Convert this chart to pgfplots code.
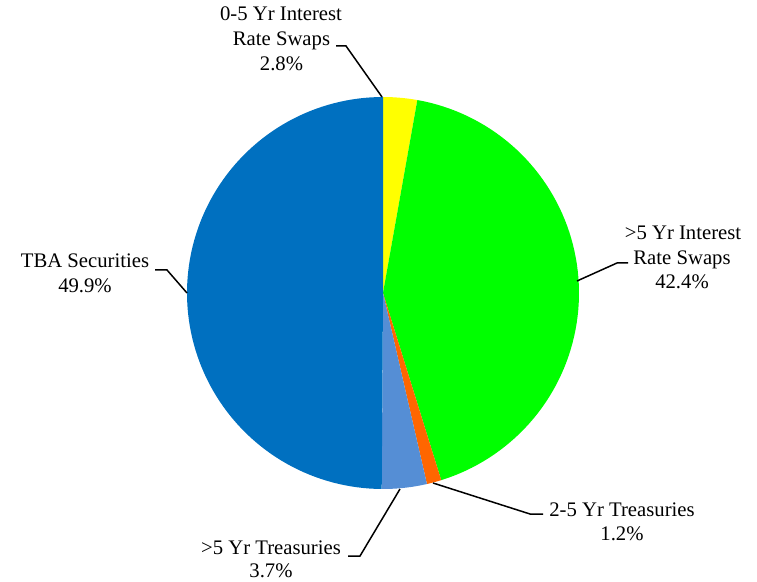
\documentclass[border=0pt]{standalone}
\usepackage{pgfplots}
\pgfplotsset{compat=1.18}
\usepgfplotslibrary{polar}
\usepackage{fontspec}
\setmainfont{Liberation Serif}
\definecolor{cY}{HTML}{FFFF00}
\definecolor{cG}{HTML}{00FF00}
\definecolor{cO}{HTML}{FF6600}
\definecolor{cL}{HTML}{558ED5}
\definecolor{cB}{HTML}{0070C0}
\begin{document}
\begin{tikzpicture}
\path (0pt,0pt) rectangle (757pt,581pt);
% shares (percent)
\def\pA{2.8}\def\pB{42.4}\def\pC{1.2}\def\pD{3.7}\def\pE{49.9}
\pgfmathsetmacro\aA{90}
\pgfmathsetmacro\aB{\aA-3.6*\pA}
\pgfmathsetmacro\aC{\aB-3.6*\pB}
\pgfmathsetmacro\aD{\aC-3.6*\pC}
\pgfmathsetmacro\aE{\aD-3.6*\pD}
\pgfmathsetmacro\aF{\aE-3.6*\pE}
\begin{polaraxis}[hide axis, scale only axis, width=392pt, height=392pt,
  ymin=0, ymax=1, xmin=-360, xmax=360, anchor=center, at={(383pt,288pt)}, clip=false]
\addplot[fill=cY, draw=none, domain=\aB:\aA, samples=10] {1} -- (axis cs:0,0) -- cycle;
\addplot[fill=cG, draw=none, domain=\aC:\aB, samples=80] {1} -- (axis cs:0,0) -- cycle;
\addplot[fill=cO, draw=none, domain=\aD:\aC, samples=5] {1} -- (axis cs:0,0) -- cycle;
\addplot[fill=cL, draw=none, domain=\aE:\aD, samples=10] {1} -- (axis cs:0,0) -- cycle;
\addplot[fill=cB, draw=none, domain=\aF:\aE, samples=100] {1} -- (axis cs:0,0) -- cycle;
\end{polaraxis}
\begin{scope}[x=1pt,y=1pt,line width=1.5pt]
\draw (336,535)--(346,535)--(382,484);
\draw (155,311)--(167,311)--(187,288);
\draw (628,318)--(617,318)--(577,300);
\draw (348,25)--(360,25)--(400,92);
\draw (543,67)--(530,67)--(433,98);
\end{scope}
\begin{scope}[x=1pt,y=1pt,every node/.style={anchor=base, inner sep=0pt, font=\fontsize{20.7}{25}\selectfont}]
\node at (281,560) {0-5 Yr Interest};
\node at (281.5,535) {Rate Swaps};
\node at (281.5,510) {2.8\%};
\node at (85,313) {TBA Securities};
\node at (85,288) {49.9\%};
\node at (683,341) {>5 Yr Interest};
\node at (682,316) {Rate Swaps};
\node at (682,292) {42.4\%};
\node at (271,27) {>5 Yr Treasuries};
\node at (271,4) {3.7\%};
\node at (622,65) {2-5 Yr Treasuries};
\node at (622,41) {1.2\%};
\end{scope}
\end{tikzpicture}
\end{document}
